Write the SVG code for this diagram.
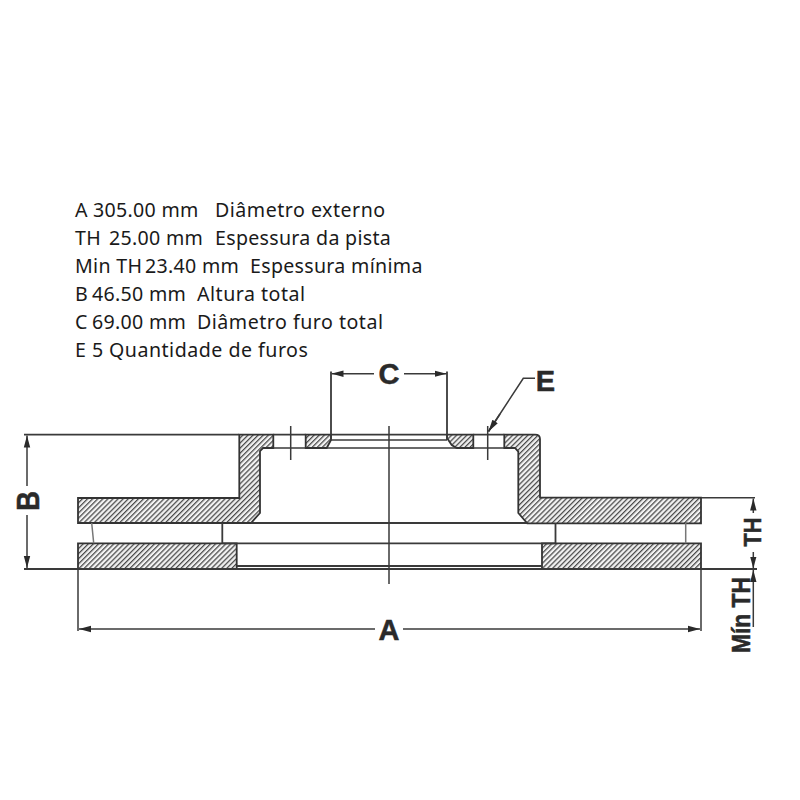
<svg xmlns="http://www.w3.org/2000/svg" width="800" height="800" viewBox="0 0 800 800">
<style>
.t{font-family:"Noto Sans","Open Sans",sans-serif;font-size:19.6px;letter-spacing:.3px;fill:#1a1a1a}
.w{letter-spacing:.5px}
.d{font-family:"Liberation Sans",Arial,sans-serif;font-weight:bold;fill:#2a2a2a;font-size:29px;text-anchor:middle;stroke:#2a2a2a;stroke-width:.5}
.h{fill:url(#hatch);stroke:#333;stroke-width:1.8;stroke-linejoin:miter}
.l{fill:none;stroke:#3a3a3a;stroke-width:1.8}
.n{fill:none;stroke:#3a3a3a;stroke-width:1.5}
.g{fill:none;stroke:#777;stroke-width:1.5}
.a{marker-end:url(#arr)}
</style>
<defs>
<pattern id="hatch" width="3.6" height="3.6" patternUnits="userSpaceOnUse" patternTransform="rotate(45)">
<rect width="3.6" height="3.6" fill="#f2f2f2"/>
<rect width="1.25" height="3.6" fill="#484848"/>
</pattern>
<marker id="arr" markerUnits="userSpaceOnUse" markerWidth="12" markerHeight="8" refX="12" refY="4" orient="auto">
<path d="M0 0.8L12 4L0 7.2Z" fill="#2a2a2a"/>
</marker>
</defs>
<rect width="800" height="800" fill="#fff"/>
<g id="specs">
<text class="t" y="217.3"><tspan x="75">A</tspan><tspan x="93">305.00 mm</tspan><tspan x="215" class="w">Diâmetro externo</tspan></text>
<text class="t" y="245"><tspan x="75">TH</tspan><tspan x="109">25.00 mm</tspan><tspan x="215">Espessura da pista</tspan></text>
<text class="t" y="272.7"><tspan x="75">Min TH</tspan><tspan x="145">23.40 mm</tspan><tspan x="250">Espessura mínima</tspan></text>
<text class="t" y="301"><tspan x="75">B</tspan><tspan x="92">46.50 mm</tspan><tspan x="197" class="w">Altura total</tspan></text>
<text class="t" y="329"><tspan x="75">C</tspan><tspan x="92">69.00 mm</tspan><tspan x="197" class="w">Diâmetro furo total</tspan></text>
<text class="t" y="356.7"><tspan x="75">E</tspan><tspan x="92">5</tspan><tspan x="109" class="w">Quantidade de furos</tspan></text>
</g>
<g id="disc">
<path class="h" d="M78 498H239.3V434.7H273.3V448H263L260 451V513L251 523H78Z"/>
<path class="h" d="M305.7 434.7H331V440L326.7 448H305.7Z"/>
<path class="h" d="M447 434.7H473.3V448H456.7L451.7 445L447 438Z"/>
<path class="h" d="M504.3 434.7H535Q540 434.7 540 439V497.7H701V523.3H527.3L518.3 513V451.7L515 448H504.3Z"/>
<path class="h" d="M78 543.3H236.7V569H78Z"/>
<path class="h" d="M542 543.3H701V569H542Z"/>
</g>
<g id="connectors">
<path class="l" d="M24 434.7H239M273.3 434.7H305.7M331 434.7H447M473.3 434.7H504.3"/>
<path class="l" d="M24 569H757"/>
<path class="n" d="M273.3 448H305.7M326.7 448H456.7M473.3 448H504.3"/>
<path class="n" d="M331 440H447"/>
<path class="l" d="M251 523H527M222.3 543.3H556M236.7 566H542"/>
<path class="l" d="M222.3 523V543.3M555.5 523V543.3"/>
<path class="g" d="M91.7 523L93.7 543.3M685.7 523V543.3"/>
<path class="l" d="M331 371.5V440M447 371.5V440"/>
<path class="n" d="M389 426V584M290.7 426V460M487.7 426V460"/>
<path class="n a" d="M374 373.7H331.5"/>
<path class="n a" d="M404 373.7H446.5"/>
<path class="n" d="M535 378.3H523.3L488.5 431.5"/>
<path class="n a" d="M500 414L488.5 431.5"/>
<path class="n a" d="M27 486V435.5"/>
<path class="n a" d="M27 515V568"/>
<path class="n" d="M78 569V631M701 569V631"/>
<path class="n a" d="M375 629H79"/>
<path class="n a" d="M403 629H700"/>
<path class="n" d="M701 497.7H755"/>
<path class="n a" d="M753.3 513V498.5"/>
<path class="n a" d="M753.3 552V568.5"/>
<path class="n a" d="M753.3 627V570"/>
</g>
<g id="labels">
<text class="d" x="389" y="384">C</text>
<text class="d" x="545.5" y="390.7">E</text>
<text class="d" x="389" y="640">A</text>
<text class="d" style="font-size:31px" transform="translate(39.3 501) rotate(-90) scale(.88 1)">B</text>
<text class="d" style="font-size:24.5px" transform="translate(760.7 532) rotate(-90) scale(.89 1)">TH</text>
<text class="d" style="font-size:25px" transform="translate(750 615) rotate(-90) scale(.91 1)">Mín TH</text>
</g>
</svg>
